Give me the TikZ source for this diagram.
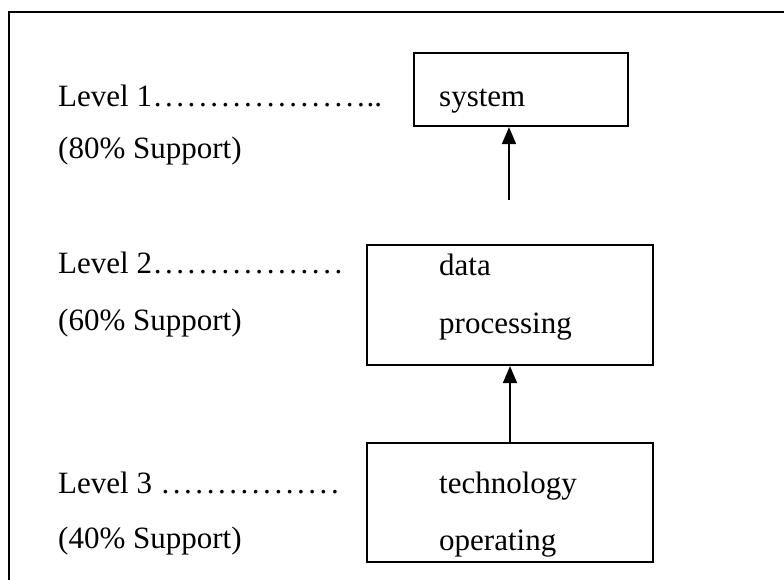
\documentclass[tikz,border=0pt]{standalone}
\usepackage{fontspec}
\setmainfont{Liberation Serif}
\usetikzlibrary{arrows.meta}
\newcommand{\dotrow}[1]{\foreach \k in {1,...,#1}{\hbox to 11.3pt{\hss.\hss}}}
\begin{document}
\begin{tikzpicture}[x=1pt,y=-1pt,
  lbl/.style={anchor=base west,inner sep=0pt,font=\fontsize{31}{37}\selectfont},
  boxnode/.style={draw,line width=2.2pt,inner sep=0pt},
  conn/.style={line width=1.8pt,-{Triangle[length=17pt,width=14pt]}}]
\useasboundingbox (0,0) rectangle (784,580);
\draw[line width=2.2pt] (9,585) -- (9,12) -- (790,12);
% boxes
\node[boxnode,minimum width=214pt,minimum height=73pt] (b1) at (521,89.5) {};
\node[boxnode,minimum width=286pt,minimum height=120pt] (b2) at (510,305) {};
\node[boxnode,minimum width=286pt,minimum height=119pt] (b3) at (510,502.5) {};
% box texts
\node[lbl] (t1) at (439,107) {system};
\node[lbl] (t2a) at (439,275) {data};
\node[lbl] (t2b) at (439,333) {processing};
\node[lbl] (t3a) at (439,493) {technology};
\node[lbl] (t3b) at (439,550) {operating};
% level labels
\node[lbl] (l1) at (58,107) {Level 1\dotrow{19}..};
\node[lbl] (s1) at (58,159) {(80\% Support)};
\node[lbl] (l2) at (58,273) {Level 2\dotrow{17}};
\node[lbl] (s2) at (58,330) {(60\% Support)};
\node[lbl] (l3) at (58,493) {Level 3 \dotrow{16}};
\node[lbl] (s3) at (58,548) {(40\% Support)};
% connectors
\coordinate (a1) at (509,200);
\draw[conn] (a1) -- (a1 |- b1.south);
\draw[conn] (b3.north) -- (b2.south);
\end{tikzpicture}
\end{document}
